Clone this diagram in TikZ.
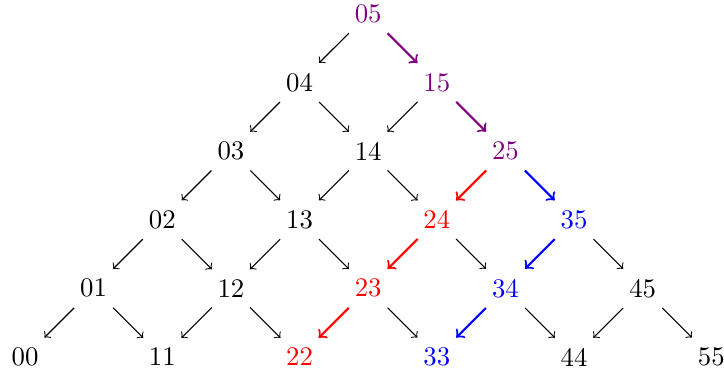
\documentclass[tikz,border=0pt]{standalone}
\begin{document}
\begin{tikzpicture}[x=0.9cm,y=0.9cm,
  lbl/.style={inner sep=3.6pt},
  arr/.style={->},
  carr/.style={->,thick}]
\useasboundingbox (-9.33pt,-5.97pt) rectangle (260.8pt,133.2pt);
\foreach \i/\j/\c in {0/0/black,1/1/black,2/2/red,3/3/blue,4/4/black,5/5/black,
  0/1/black,1/2/black,2/3/red,3/4/blue,4/5/black,
  0/2/black,1/3/black,2/4/red,3/5/blue,
  0/3/black,1/4/black,2/5/violet,
  0/4/black,1/5/violet,
  0/5/violet}
  \node[lbl,text=\c] (n\i\j) at ({\i+\j},{\j-\i}) {\i\j};
\foreach \a/\b in {05/04,04/03,04/14,15/14,03/02,03/13,14/13,14/24,
  02/01,02/12,13/12,13/23,24/34,35/45,01/00,01/11,12/11,12/22,
  23/33,34/44,45/44,45/55}
  \draw[arr] (n\a) -- (n\b);
\foreach \a/\b/\c in {05/15/violet,15/25/violet,25/24/red,24/23/red,23/22/red,
  25/35/blue,35/34/blue,34/33/blue}
  \draw[carr,\c] (n\a) -- (n\b);
\end{tikzpicture}
\end{document}
